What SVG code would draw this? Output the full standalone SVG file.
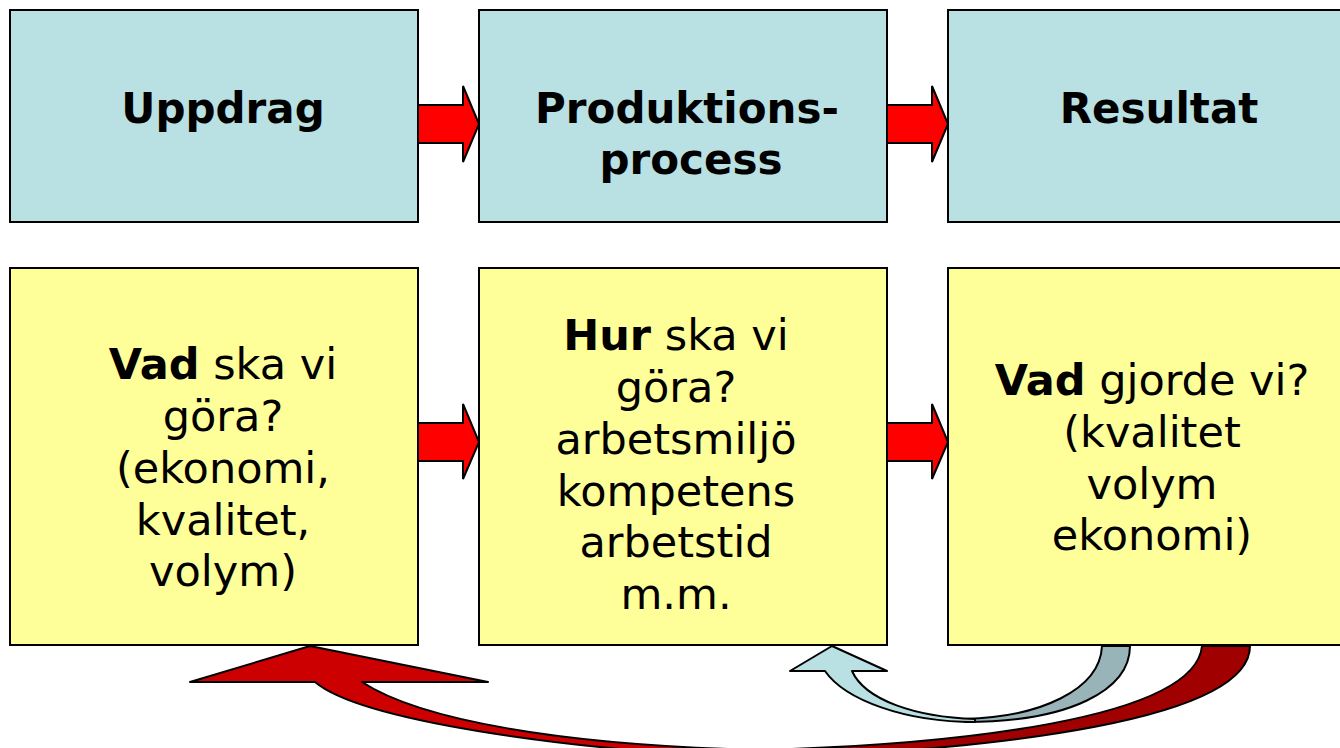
<svg xmlns="http://www.w3.org/2000/svg" width="1340" height="748" viewBox="0 0 1340 748">
<style>
.top{fill:#B9E0E3;stroke:#000;stroke-width:2}
.bot{fill:#FFFF99;stroke:#000;stroke-width:2}
.arr{fill:#FF0000;stroke:#000;stroke-width:2;stroke-linejoin:miter}
.ln{stroke:#000;stroke-width:2;stroke-linejoin:round}
.t{font-family:"DejaVu Sans",Verdana,sans-serif;fill:#000;text-anchor:middle}
.h{font-size:42px;font-weight:bold}
.b{font-size:43px}
.bb{font-weight:bold}
</style>
<rect width="1340" height="748" fill="#fff"/>
<g id="uppdrag"><rect class="top" x="10" y="10" width="408" height="212"/><text class="t h" x="223" y="123">Uppdrag</text></g>
<g id="produktionsprocess"><rect class="top" x="479" y="10" width="408" height="212"/><text class="t h" x="687" y="123">Produktions-</text><text class="t h" x="691" y="174">process</text></g>
<g id="resultat"><rect class="top" x="948" y="10" width="408" height="212"/><text class="t h" x="1159" y="123">Resultat</text></g>
<g id="vad"><rect class="bot" x="10" y="268" width="408" height="377"/><text class="t b" x="223" y="379"><tspan class="bb">Vad</tspan> ska vi</text><text class="t b" x="223" y="431">göra?</text><text class="t b" x="223" y="483">(ekonomi,</text><text class="t b" x="223" y="535">kvalitet,</text><text class="t b" x="223" y="586">volym)</text></g>
<g id="hur"><rect class="bot" x="479" y="268" width="408" height="377"/><text class="t b" x="676" y="350"><tspan class="bb">Hur</tspan> ska vi</text><text class="t b" x="676" y="402">göra?</text><text class="t b" x="676" y="454">arbetsmiljö</text><text class="t b" x="676" y="506">kompetens</text><text class="t b" x="676" y="557">arbetstid</text><text class="t b" x="676" y="609">m.m.</text></g>
<g id="gjorde"><rect class="bot" x="948" y="268" width="408" height="377"/><text class="t b" x="1152" y="395"><tspan class="bb">Vad</tspan> gjorde vi?</text><text class="t b" x="1152" y="447">(kvalitet</text><text class="t b" x="1152" y="499">volym</text><text class="t b" x="1152" y="550">ekonomi)</text></g>
<g id="connectors">
<path class="arr" d="M418,105 H463 V86 L479,124 L463,162 V143 H418 Z"/>
<path class="arr" d="M887,105 H932 V86 L948,124 L932,162 V143 H887 Z"/>
<path class="arr" d="M418,423 H463 V404 L479,442 L463,479 V461 H418 Z"/>
<path class="arr" d="M887,423 H932 V404 L948,442 L932,479 V461 H887 Z"/>
<path class="ln" fill="#A00000" d="M760,750 C950,745 1195,720 1202,646 L1250,646 C1250,720 1000,750 760,758 Z"/>
<path class="ln" fill="#CC0000" d="M310,646 L488,682 L362,682 C420,720 560,745 760,750 L760,758 C560,750 360,720 315,682 L190,682 Z"/>
<path class="ln" fill="#98B4B8" d="M965,719 C1040,717 1100,690 1102,646 L1130,646 C1130,690 1070,722 965,722 Z"/>
<path class="ln" fill="#B9E0E3" d="M832,646 L887,671 L852,671 C865,700 915,717 975,719 L975,722 C905,722 845,700 825,671 L790,671 Z"/>
</g>
</svg>
